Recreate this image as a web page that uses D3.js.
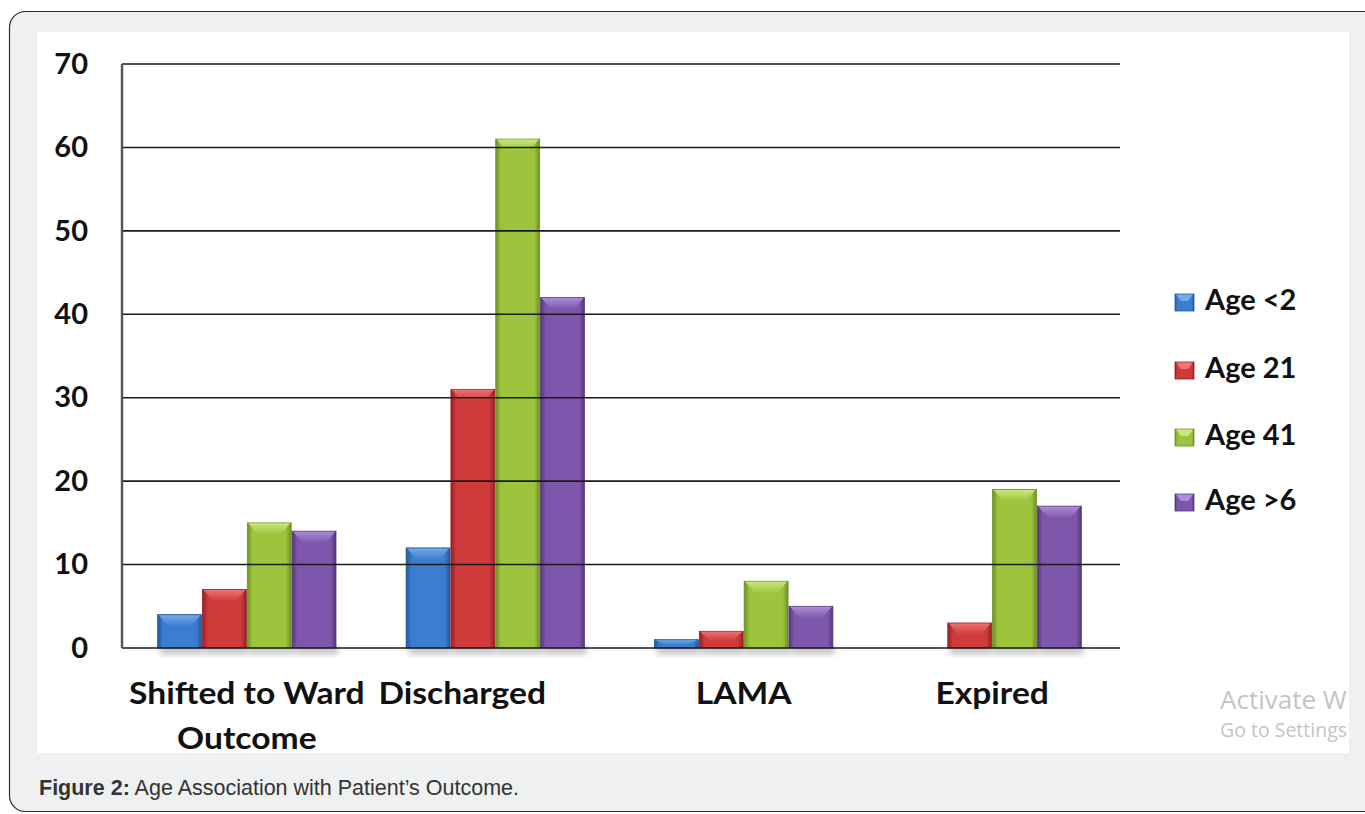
<!DOCTYPE html>
<html>
<head>
<meta charset="utf-8">
<script src="https://cdn.jsdelivr.net/npm/d3@7"></script>
<style>
  html, body { margin: 0; padding: 0; background: #ffffff; }
  svg { display: block; }
</style>
</head>
<body>
<svg id="chart" width="1365" height="814"></svg>
<script>
// Outcome categories and patient counts per age group
const categories = ["Shifted to Ward Outcome", "Discharged", "LAMA", "Expired"];
const seriesNames = ["Age <2", "Age 21", "Age 41", "Age >6"];
const ageUnder2 = [4, 12, 1, 0];
const age21 = [7, 31, 2, 3];
const age41 = [15, 61, 8, 19];
const ageOver6 = [14, 42, 5, 17];
const yTicks = [0, 10, 20, 30, 40, 50, 60, 70];

const seriesValues = [ageUnder2, age21, age41, ageOver6];
const palette = [
  { base: "#3b7dcf", dark: "#22579b", light: "#76aaea" },
  { base: "#cf3a3a", dark: "#962023", light: "#ee7474" },
  { base: "#9cc43d", dark: "#6d9124", light: "#cde87a" },
  { base: "#7e57ab", dark: "#553778", light: "#ad8fd8" }
];

const svg = d3.select("#chart");
const defs = svg.append("defs");

// page frame: grey card with rounded border and a white chart panel
svg.append("rect").attr("x", 9.5).attr("y", 11.5).attr("width", 1420).attr("height", 800)
  .attr("rx", 16).attr("fill", "#eef0f2").attr("stroke", "#2a2a2a").attr("stroke-width", 1.2);
svg.append("rect").attr("x", 37).attr("y", 32).attr("width", 1312).attr("height", 721).attr("fill", "#ffffff");

const margin = { left: 122, right: 1117, top: 64, bottom: 648 };
const y = d3.scaleLinear().domain([0, 70]).range([margin.bottom, margin.top]);
const x0 = d3.scaleBand().domain(categories).range([margin.left, margin.right]).paddingInner(0.275).paddingOuter(0.14);
const x1 = d3.scaleBand().domain(seriesNames).range([0, x0.bandwidth()]).padding(0.02);

// gradients and shadow for the bevelled bars
palette.forEach((c, i) => {
  const g = defs.append("linearGradient").attr("id", "grad" + i).attr("x1", 0).attr("x2", 1).attr("y1", 0).attr("y2", 0);
  g.append("stop").attr("offset", "0%").attr("stop-color", c.dark);
  g.append("stop").attr("offset", "12%").attr("stop-color", c.base);
  g.append("stop").attr("offset", "88%").attr("stop-color", c.base);
  g.append("stop").attr("offset", "100%").attr("stop-color", c.dark);
  const t = defs.append("linearGradient").attr("id", "top" + i).attr("x1", 0).attr("x2", 0).attr("y1", 0).attr("y2", 1);
  t.append("stop").attr("offset", "0%").attr("stop-color", c.light);
  t.append("stop").attr("offset", "100%").attr("stop-color", c.base);
});
const shadow = defs.append("filter").attr("id", "shadow").attr("x", "-20%").attr("y", "-20%").attr("width", "140%").attr("height", "160%");
shadow.append("feGaussianBlur").attr("stdDeviation", 3);
const soft = defs.append("filter").attr("id", "soft");
soft.append("feGaussianBlur").attr("stdDeviation", 0.5);

const plot = svg.append("g");

// bars
const groups = plot.selectAll("g.group").data(categories).join("g")
  .attr("class", "group")
  .attr("transform", d => `translate(${x0(d)},0)`);

groups.each(function(cat, ci) {
  const g = d3.select(this);
  seriesNames.forEach((s, si) => {
    const v = seriesValues[si][ci];
    if (v <= 0) return;
    const bx = x1(s), bw = x1.bandwidth();
    const by = y(v), bh = y(0) - y(v);
    g.append("rect").attr("x", bx + 2).attr("y", y(0) - 2).attr("width", bw).attr("height", 8)
      .attr("fill", "#000").attr("opacity", 0.25).attr("filter", "url(#shadow)");
    const bar = g.append("g").attr("filter", "url(#soft)");
    bar.append("rect").attr("x", bx).attr("y", by).attr("width", bw).attr("height", bh)
      .attr("fill", `url(#grad${si})`).attr("stroke", palette[si].dark).attr("stroke-width", 0.8);
    const bev = Math.min(12, bh * 0.6);
    bar.append("path")
      .attr("d", `M${bx + 1},${by + 0.5}L${bx + bw - 1},${by + 0.5}L${bx + bw - 11},${by + bev}L${bx + 11},${by + bev}Z`)
      .attr("fill", `url(#top${si})`).attr("opacity", 0.95);
  });
});

// horizontal gridlines on top of the bars
plot.selectAll("line.grid").data(yTicks).join("line")
  .attr("class", "grid")
  .attr("x1", margin.left).attr("x2", 1120)
  .attr("y1", d => y(d)).attr("y2", d => y(d))
  .attr("stroke", "#1a1a1a").attr("stroke-width", 1.6);

// vertical axis line
plot.append("line").attr("x1", margin.left).attr("x2", margin.left)
  .attr("y1", y(70)).attr("y2", y(0)).attr("stroke", "#555").attr("stroke-width", 2.4);

// y tick labels
const yAxis = d3.axisLeft(y).tickValues(yTicks).tickSize(0).tickPadding(34);
const ya = svg.append("g").attr("transform", `translate(${margin.left},0)`).call(yAxis);
ya.select(".domain").remove();
ya.selectAll("text").attr("font-family", "Lato, sans-serif").attr("font-weight", 700)
  .attr("font-size", 29).attr("fill", "#111");

// category labels under each group, wrapping the long one onto two lines
const labelShift = { "Discharged": -33 };
const xl = svg.append("g").attr("font-family", "Lato, sans-serif").attr("font-weight", 700)
  .attr("font-size", 30).attr("fill", "#111").attr("text-anchor", "middle");
categories.forEach(c => {
  const cx = x0(c) + x0.bandwidth() / 2 + (labelShift[c] || 0);
  const lines = c === "Shifted to Ward Outcome" ? ["Shifted to Ward", "Outcome"] : [c];
  lines.forEach((ln, i) => {
    xl.append("text")
      .attr("transform", `translate(${cx},${704 + i * 45}) scale(1.12,1)`)
      .text(ln);
  });
});

// legend
const legend = svg.append("g").attr("transform", "translate(1175,0)");
const legendY = [300, 368, 435, 500];
seriesNames.forEach((s, i) => {
  const ly = legendY[i];
  const item = legend.append("g").attr("filter", "url(#soft)");
  item.append("rect").attr("x", 0).attr("y", ly - 6).attr("width", 19).attr("height", 17)
    .attr("fill", `url(#grad${i})`).attr("stroke", palette[i].dark).attr("stroke-width", 0.8);
  item.append("path").attr("d", `M1,${ly - 5.5}L18,${ly - 5.5}L13,${ly + 1}L6,${ly + 1}Z`)
    .attr("fill", palette[i].light);
  legend.append("text").attr("x", 30).attr("y", ly + 10).text(s)
    .attr("font-family", "Lato, sans-serif").attr("font-weight", 700).attr("font-size", 29).attr("fill", "#111");
});

// system overlay text in the lower right corner
const wm = svg.append("g").attr("font-family", "'Open Sans', sans-serif").attr("fill", "#c4c4c4");
wm.append("text").attr("x", 1220).attr("y", 709).attr("font-size", 26).text("Activate W");
wm.append("text").attr("x", 1220).attr("y", 737).attr("font-size", 19.5).text("Go to Settings");

// figure caption
const cap = svg.append("text").attr("x", 39).attr("y", 795)
  .attr("font-family", "'Liberation Sans', Arial, sans-serif").attr("font-size", 21.5).attr("fill", "#333");
cap.append("tspan").attr("font-weight", 700).text("Figure 2:");
cap.append("tspan").text(" Age Association with Patient\u2019s Outcome.");
</script>
</body>
</html>
